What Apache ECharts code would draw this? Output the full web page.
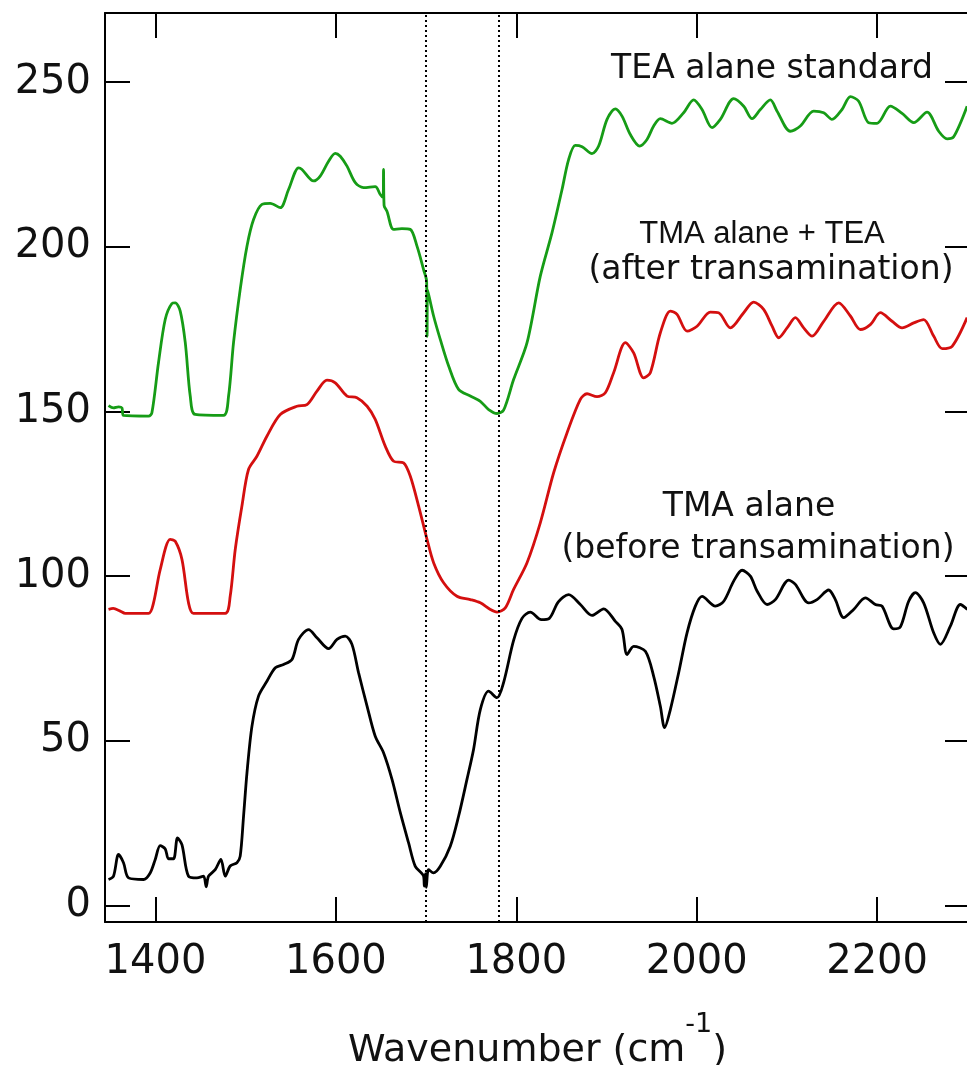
<!DOCTYPE html>
<html>
<head>
<meta charset="utf-8">
<script src="https://cdn.jsdelivr.net/npm/echarts@6/dist/echarts.min.js"></script>
<style>
  html, body { margin: 0; padding: 0; background: #fff; overflow: hidden; }
  #chart { width: 980px; height: 1065px; }
</style>
</head>
<body>
<div id="chart"></div>
<script>
// tick values
var xTicks = [1400, 1600, 1800, 2000, 2200];
var yTicks = [0, 50, 100, 150, 200, 250];
var guideLines = [1700, 1780];

// TEA alane standard (green)
var teaStandard = [
  [1347.9,151.8],[1353.4,151.1],[1359.0,151.4],[1362.8,151.1],[1364.5,148.8],[1392.3,148.6],
  [1396.0,149.6],[1403.3,164.8],[1410.8,178.0],[1418.2,182.8],[1421.9,183.0],[1427.4,180.5],
  [1433.0,170.9],[1438.5,154.7],[1444.0,149.1],[1475.4,148.8],[1481.0,154.7],[1486.5,170.9],
  [1493.9,187.1],[1501.4,200.2],[1508.7,208.3],[1518.0,212.9],[1527.2,213.2],[1538.3,211.9],
  [1547.5,217.4],[1558.6,224.0],[1562.4,223.5],[1575.2,220.0],[1582.6,221.5],[1591.9,226.0],
  [1599.3,228.4],[1604.8,227.5],[1612.3,224.5],[1621.5,219.5],[1630.7,218.0],[1643.6,218.3],
  [1649.2,215.9],[1652.3,215.0],[1652.8,223.5],[1653.4,212.6],[1656.6,210.8],[1663.9,205.3],
  [1673.2,205.5],[1682.4,205.3],[1689.9,200.2],[1697.2,193.1],[1700.6,189.5],[1701.1,172.8],
  [1701.5,187.1],[1708.3,179.0],[1715.7,171.9],[1725.0,163.8],[1736.0,156.7],[1749.0,154.7],
  [1760.1,153.1],[1769.3,150.6],[1778.6,149.4],[1785.9,150.4],[1797.0,159.7],[1811.9,170.9],
  [1826.6,191.1],[1839.6,204.3],[1850.7,217.4],[1858.0,226.5],[1865.4,230.8],[1872.9,230.4],
  [1883.9,228.3],[1891.3,230.6],[1900.6,238.7],[1909.8,241.9],[1917.2,239.7],[1926.4,234.1],
  [1936.7,230.6],[1944.9,232.6],[1952.3,236.7],[1959.7,238.9],[1972.6,237.5],[1985.5,240.7],
  [1996.6,244.6],[2005.9,241.7],[2017.0,236.2],[2026.2,238.7],[2041.0,245.0],[2052.1,242.7],
  [2061.4,238.9],[2070.6,241.7],[2081.7,244.6],[2089.1,241.2],[2103.8,235.1],[2114.9,236.7],
  [2129.7,241.2],[2140.8,240.7],[2150.0,238.7],[2161.1,241.7],[2170.4,245.6],[2179.6,244.2],
  [2190.6,237.7],[2200.0,237.5],[2214.7,242.7],[2227.7,240.5],[2240.6,237.7],[2255.4,240.9],
  [2268.3,235.1],[2277.6,232.8],[2284.9,233.4],[2299.8,242.7]
];

// TMA alane + TEA, after transamination (red)
var afterTrans = [
  [1347.9,89.9],[1353.1,90.2],[1360.9,89.4],[1366.4,88.7],[1392.3,88.7],[1397.8,91.9],
  [1405.2,102.0],[1416.3,111.2],[1421.9,110.6],[1429.3,105.1],[1436.6,91.9],[1442.1,88.7],
  [1477.3,88.7],[1482.8,93.9],[1488.4,108.1],[1495.8,121.3],[1503.1,132.4],[1512.4,136.4],
  [1523.5,142.5],[1538.3,149.1],[1556.8,151.6],[1567.9,152.1],[1579.0,156.2],[1590.1,159.5],
  [1599.3,158.7],[1612.3,154.7],[1623.3,154.2],[1634.6,151.6],[1643.6,147.6],[1654.7,139.5],
  [1664.0,134.9],[1675.0,134.4],[1682.4,130.4],[1691.7,121.3],[1701.0,111.2],[1708.3,104.1],
  [1719.4,98.0],[1734.2,93.9],[1749.0,92.9],[1760.1,91.9],[1771.2,89.9],[1778.6,89.1],
  [1787.8,90.4],[1797.0,96.0],[1811.9,104.1],[1826.6,116.2],[1841.4,131.4],[1856.2,143.5],
  [1871.0,153.7],[1878.4,155.4],[1889.5,154.5],[1898.7,155.7],[1907.9,161.8],[1920.9,170.9],
  [1930.1,167.8],[1941.2,160.2],[1948.6,161.8],[1959.7,173.9],[1970.8,180.5],[1978.2,179.5],
  [1989.3,174.4],[2000.4,175.9],[2015.1,180.2],[2024.3,180.0],[2037.3,175.4],[2052.1,180.0],
  [2063.1,183.2],[2074.2,181.0],[2083.6,175.9],[2090.9,172.4],[2100.2,175.4],[2109.4,178.5],
  [2118.6,175.4],[2127.9,172.9],[2140.8,177.4],[2157.4,183.0],[2170.4,179.0],[2181.5,174.9],
  [2192.5,176.4],[2203.6,180.0],[2216.6,177.4],[2227.7,175.4],[2240.6,176.9],[2251.6,177.9],
  [2262.7,172.9],[2272.1,169.1],[2283.2,169.8],[2299.8,178.5]
];

// TMA alane, before transamination (black)
var beforeTrans = [
  [1347.9,7.9],[1353.4,8.9],[1359.0,15.5],[1364.5,13.0],[1370.1,8.4],[1386.7,7.9],
  [1394.1,9.9],[1399.7,14.0],[1405.2,18.2],[1410.8,17.2],[1414.4,14.2],[1420.0,14.2],
  [1424.4,20.5],[1429.3,18.5],[1436.6,8.9],[1445.9,8.4],[1453.2,8.9],[1456.2,5.7],
  [1458.8,8.9],[1466.2,10.9],[1472.5,14.0],[1477.3,8.9],[1482.8,12.0],[1490.3,13.0],
  [1493.9,15.0],[1497.6,27.1],[1501.4,40.3],[1506.9,54.4],[1514.2,63.6],[1523.5,68.1],
  [1532.8,72.2],[1542.0,73.2],[1551.3,74.7],[1558.6,80.8],[1569.7,83.8],[1579.0,81.3],
  [1591.9,78.0],[1601.2,80.8],[1610.4,81.8],[1617.8,79.3],[1625.1,70.7],[1634.6,60.5],
  [1643.6,51.4],[1652.8,46.4],[1662.2,38.3],[1671.4,28.2],[1680.6,19.0],[1688.0,11.9],
  [1697.2,8.9],[1698.0,5.9],[1699.1,9.7],[1700.2,5.5],[1702.7,10.9],[1708.3,9.9],
  [1715.7,11.9],[1726.8,18.0],[1736.0,27.1],[1745.3,38.3],[1752.6,47.4],[1760.1,59.5],
  [1769.3,65.1],[1778.6,63.1],[1785.9,67.7],[1797.0,80.5],[1806.3,87.2],[1815.5,89.1],
  [1827.7,86.8],[1836.6,87.2],[1846.6,92.2],[1858.0,94.4],[1871.0,91.4],[1883.9,88.1],
  [1896.9,90.1],[1909.8,86.3],[1917.2,83.8],[1922.8,76.2],[1930.1,78.7],[1943.1,77.2],
  [1952.3,69.6],[1959.7,60.5],[1964.4,54.0],[1970.8,59.5],[1980.0,70.7],[1989.3,82.8],
  [1998.5,90.9],[2005.9,93.9],[2020.7,90.9],[2030.0,92.4],[2041.0,98.5],[2050.3,101.8],
  [2059.5,100.0],[2066.9,95.5],[2078.0,91.4],[2087.2,92.9],[2102.0,98.8],[2109.4,97.5],
  [2124.1,91.9],[2133.4,92.9],[2146.3,95.8],[2153.7,92.9],[2162.9,87.4],[2174.0,89.9],
  [2187.0,93.4],[2198.1,91.4],[2205.5,90.9],[2218.4,84.0],[2225.8,84.6],[2235.0,92.4],
  [2242.4,95.0],[2251.6,91.9],[2262.7,82.8],[2270.2,79.3],[2281.2,84.8],[2292.3,91.4],
  [2300.1,89.9]
];

var chart = echarts.init(document.getElementById('chart'));

var axisFont = 'DejaVu Sans';
var frameLine = { show: true, onZero: false, lineStyle: { color: '#000', width: 2 } };
var inTick = function (vals) {
  return { show: true, inside: true, length: 25, customValues: vals,
           lineStyle: { color: '#000', width: 2 } };
};
var plainNum = function (v) { return String(v); };

function lineSeries(name, data, color) {
  return {
    name: name,
    type: 'line',
    data: data,
    showSymbol: false,
    symbol: 'none',
    smooth: 0.3,
    lineStyle: { color: color, width: 2.8 },
    z: 3
  };
}

var blackSeries = lineSeries('TMA alane', beforeTrans, '#000');
blackSeries.markLine = {
  silent: true,
  symbol: 'none',
  label: { show: false },
  lineStyle: { color: '#000', type: [2, 3], width: 2 },
  data: guideLines.map(function (v) { return { xAxis: v }; })
};

var annoFont = '33px "DejaVu Sans"';

var option = {
  animation: false,
  backgroundColor: '#fff',
  grid: { left: 105, right: 10, top: 13, bottom: 143, outerBoundsMode: 'none', containLabel: false },
  xAxis: [
    {
      type: 'value', min: 1344, max: 2303, position: 'bottom',
      name: '{main|Wavenumber (cm}{sup|-1}{main|)}',
      nameLocation: 'middle', nameGap: 89,
      nameTextStyle: {
        rich: {
          main: { fontFamily: axisFont, fontSize: 38, color: '#111', lineHeight: 80 },
          sup: { fontFamily: axisFont, fontSize: 27, color: '#111', lineHeight: 28, verticalAlign: 'top' }
        }
      },
      axisLine: frameLine,
      axisTick: inTick(xTicks),
      axisLabel: { customValues: xTicks, formatter: plainNum, margin: 21, fontFamily: axisFont, fontSize: 40, color: '#111' },
      splitLine: { show: false }
    },
    {
      type: 'value', min: 1344, max: 2303, position: 'top',
      axisLine: frameLine,
      axisTick: inTick(xTicks),
      axisLabel: { show: false },
      splitLine: { show: false }
    }
  ],
  yAxis: [
    {
      type: 'value', min: -5, max: 271, position: 'left',
      axisLine: frameLine,
      axisTick: inTick(yTicks),
      axisLabel: { customValues: yTicks, formatter: plainNum, margin: 14, fontFamily: axisFont, fontSize: 40, color: '#111' },
      splitLine: { show: false }
    },
    {
      type: 'value', min: -5, max: 271, position: 'right',
      axisLine: frameLine,
      axisTick: inTick(yTicks),
      axisLabel: { show: false },
      splitLine: { show: false }
    }
  ],
  series: [
    lineSeries('TEA alane standard', teaStandard, '#169c16'),
    lineSeries('TMA alane + TEA', afterTrans, '#d40f0f'),
    blackSeries
  ],
  graphic: [
    { type: 'text', x: 772, y: 69, style: { text: 'TEA alane standard', font: annoFont, fill: '#111', align: 'center', verticalAlign: 'middle' } },
    { type: 'text', x: 762, y: 234, style: { text: 'TMA alane + TEA', font: '31px "Liberation Sans"', fill: '#111', align: 'center', verticalAlign: 'middle' } },
    { type: 'text', x: 771, y: 270, style: { text: '(after transamination)', font: annoFont, fill: '#111', align: 'center', verticalAlign: 'middle' } },
    { type: 'text', x: 749, y: 507, style: { text: 'TMA alane', font: annoFont, fill: '#111', align: 'center', verticalAlign: 'middle' } },
    { type: 'text', x: 758, y: 549, style: { text: '(before transamination)', font: annoFont, fill: '#111', align: 'center', verticalAlign: 'middle' } }
  ]
};

chart.setOption(option);
</script>
</body>
</html>
